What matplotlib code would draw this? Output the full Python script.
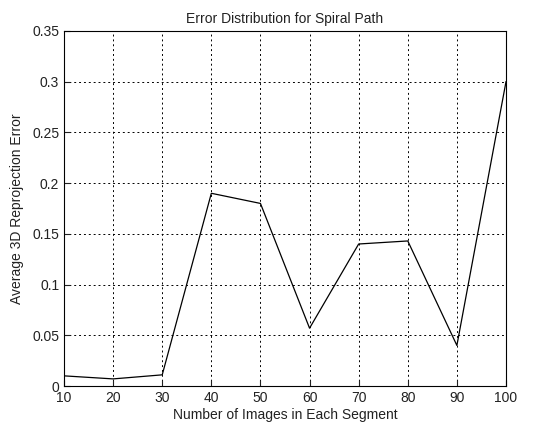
import matplotlib
matplotlib.use("Agg")
import matplotlib.pyplot as plt

plt.rcParams['font.family'] = ['Liberation Sans', 'DejaVu Sans']

images = [10, 20, 30, 40, 50, 60, 70, 80, 90, 100]
errors = [0.010, 0.007, 0.011, 0.190, 0.180, 0.057, 0.140, 0.143, 0.040, 0.300]
xticks = [10, 20, 30, 40, 50, 60, 70, 80, 90, 100]
yticks = [0, 0.05, 0.1, 0.15, 0.2, 0.25, 0.3, 0.35]
ytick_labels = ['0', '0.05', '0.1', '0.15', '0.2', '0.25', '0.3', '0.35']

fig = plt.figure(figsize=(5.34, 4.22), dpi=100)
ax = fig.add_axes([64/534, 1 - 386/422, (506 - 64)/534, (386 - 31)/422])
ax.plot(images, errors, color='black', linewidth=0.9)
ax.set_xlim(10, 100)
ax.set_ylim(0, 0.35)
ax.set_xticks(xticks)
ax.set_yticks(yticks)
ax.set_yticklabels(ytick_labels)
ax.grid(True, color='black', linestyle=(0, (2, 3)), linewidth=0.7)
ax.tick_params(direction='in', length=4, labelsize=10, colors='#222222')
for s in ax.spines.values():
    s.set_linewidth(0.8)
ax.set_title('Error Distribution for Spiral Path', fontsize=10, pad=6, color='#222222')
ax.set_xlabel('Number of Images in Each Segment', fontsize=10, labelpad=2, color='#222222')
ax.set_ylabel('Average 3D Reprojection Error', fontsize=10, labelpad=6, color='#222222')
fig.savefig('out.png', dpi=100)
